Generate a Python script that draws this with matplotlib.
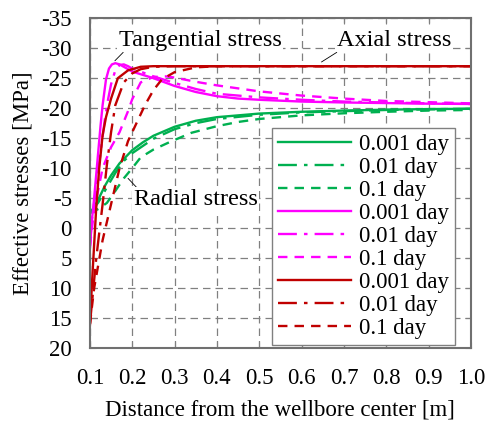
import numpy as np
import matplotlib
matplotlib.use("Agg")
import matplotlib.pyplot as plt

plt.rcParams['font.family'] = ['Liberation Serif', 'DejaVu Serif']
plt.rcParams['axes.unicode_minus'] = False

# radial stress (green)
rad_x1 = [0.1, 0.11, 0.12, 0.135, 0.15, 0.17, 0.2, 0.225, 0.25, 0.3, 0.35, 0.4, 0.5, 0.6, 0.7, 0.8, 0.9, 1.0]
rad_y1 = [-2.5, -3.5, -4.8, -7.0, -8.8, -10.8, -13.0, -14.3, -15.4, -16.9, -17.9, -18.5, -19.1, -19.4, -19.6, -19.75, -19.85, -19.9]
rad_x2 = [0.1, 0.12, 0.14, 0.16, 0.18, 0.2, 0.25, 0.3, 0.35, 0.4, 0.5, 0.6, 0.7, 0.8, 0.9, 1.0]
rad_y2 = [-2.5, -4.3, -6.8, -9.2, -11.2, -12.5, -14.9, -16.5, -17.5, -18.2, -18.9, -19.3, -19.5, -19.7, -19.8, -19.9]
rad_x3 = [0.1, 0.12, 0.14, 0.16, 0.18, 0.2, 0.22, 0.25, 0.29, 0.34, 0.4, 0.45, 0.5, 0.6, 0.7, 0.8, 0.9, 1.0]
rad_y3 = [-2.5, -3.2, -4.2, -6.2, -8.3, -10.0, -11.8, -13.1, -14.4, -15.9, -17.0, -17.7, -18.2, -18.8, -19.15, -19.4, -19.6, -19.7]

# tangential stress (magenta)
tan_x1 = [0.1, 0.104, 0.108, 0.115, 0.12, 0.125, 0.13, 0.138, 0.145, 0.152, 0.16, 0.17, 0.18, 0.2, 0.25, 0.3, 0.35, 0.4, 0.45, 0.5, 0.6, 0.7, 0.8, 0.9, 1.0]
tan_y1 = [3.3, -1.0, -3.5, -9.0, -13.0, -17.0, -20.5, -24.8, -26.6, -27.3, -27.5, -27.3, -26.9, -26.1, -25.0, -23.7, -22.7, -22.0, -21.6, -21.4, -21.1, -20.95, -20.85, -20.75, -20.7]
tan_x2 = [0.1, 0.105, 0.115, 0.125, 0.135, 0.143, 0.15, 0.16, 0.17, 0.18, 0.19, 0.2, 0.25, 0.3, 0.35, 0.4, 0.5, 0.6, 0.7, 0.8, 0.9, 1.0]
tan_y2 = [3.0, -1.5, -7.0, -12.5, -18.0, -21.5, -24.0, -26.3, -27.2, -27.3, -27.0, -26.6, -25.3, -24.2, -23.2, -22.4, -21.8, -21.4, -21.1, -20.95, -20.8, -20.7]
tan_x3 = [0.1, 0.11, 0.13, 0.15, 0.17, 0.19, 0.2, 0.22, 0.25, 0.28, 0.3, 0.35, 0.4, 0.5, 0.6, 0.7, 0.8, 0.9, 1.0]
tan_y3 = [3.0, -3.0, -10.0, -13.5, -16.0, -19.5, -21.5, -24.3, -25.2, -25.3, -25.1, -24.4, -23.8, -22.8, -22.1, -21.6, -21.2, -21.0, -20.8]

# axial stress (red)
axi_x1 = [0.1, 0.105, 0.115, 0.122, 0.13, 0.138, 0.15, 0.166, 0.19, 0.22, 0.25, 0.3, 0.4, 0.6, 0.8, 1.0]
axi_y1 = [16.2, 9.0, -3.5, -10.0, -15.5, -18.5, -21.6, -25.0, -26.3, -26.9, -27.0, -27.0, -27.0, -27.0, -27.0, -27.0]
axi_x2 = [0.1, 0.115, 0.13, 0.14, 0.15, 0.16, 0.18, 0.2, 0.22, 0.25, 0.3, 0.4, 0.6, 0.8, 1.0]
axi_y2 = [16.0, 5.0, -4.0, -10.5, -16.0, -20.5, -24.3, -25.8, -26.5, -26.9, -27.0, -27.0, -27.0, -27.0, -27.0]
axi_x3 = [0.1, 0.11, 0.13, 0.15, 0.17, 0.19, 0.21, 0.23, 0.25, 0.27, 0.3, 0.35, 0.4, 0.6, 0.8, 1.0]
axi_y3 = [16.0, 10.0, 2.0, -4.0, -10.0, -14.5, -17.5, -20.5, -23.0, -24.8, -26.0, -26.8, -27.0, -27.0, -27.0, -27.0]

labels = ['0.001 day', '0.01 day', '0.1 day']
green, magenta, red = '#00B050', '#FF00FF', '#C00000'
styles = ['-', (0, (8, 3, 1.5, 3)), (0, (4, 3))]

fig = plt.figure(figsize=(4.86, 4.23), dpi=100)
ax = fig.add_axes([0.185, 0.177, 0.784, 0.78])

series = [
    (green, [(rad_x1, rad_y1), (rad_x2, rad_y2), (rad_x3, rad_y3)]),
    (magenta, [(tan_x1, tan_y1), (tan_x2, tan_y2), (tan_x3, tan_y3)]),
    (red, [(axi_x1, axi_y1), (axi_x2, axi_y2), (axi_x3, axi_y3)]),
]
for col, curves in series:
    for (xs, ys), ls, lab in zip(curves, styles, labels):
        ax.plot(xs, ys, color=col, ls=ls, lw=1.7, label=lab)

ax.set_xlim(0.1, 1.0)
ax.set_ylim(20, -35)
ax.set_xticks(np.arange(0.1, 1.01, 0.1))
ax.set_xticklabels(['%.1f' % v for v in np.arange(0.1, 1.01, 0.1)])
ax.set_yticks(np.arange(-35, 21, 5))
ax.grid(True, color='#808080', ls=(0, (6, 4)), lw=0.9)
ax.tick_params(direction='in', top=True, right=True, length=4, color='#808080',
               labelsize=16.5)
ax.tick_params(axis='x', pad=14)
ax.tick_params(axis='y', pad=13)
for s in ax.spines.values():
    s.set_color('#707070')
    s.set_linewidth(1.5)

ax.set_xlabel('Distance from the wellbore center [m]', fontsize=16.5, labelpad=8)
ax.set_ylabel('Effective stresses [MPa]', fontsize=16.5, labelpad=6)

bb = dict(facecolor='white', edgecolor='none', pad=1)
ax.annotate('Tangential stress', xy=(0.159, -27.9), xytext=(0.36, -31.3),
            fontsize=17.5, ha='center', va='center', bbox=bb,
            arrowprops=dict(arrowstyle='-', color='black', lw=0.6, shrinkB=0, shrinkA=0,
                            relpos=(0.05, 0.1)))
ax.annotate('Axial stress', xy=(0.647, -27.7), xytext=(0.818, -31.3),
            fontsize=17.5, ha='center', va='center', bbox=bb,
            arrowprops=dict(arrowstyle='-', color='black', lw=0.6, shrinkB=0, shrinkA=0,
                            relpos=(0.05, 0.1)))
ax.annotate('Radial stress', xy=(0.19, -8.3), xytext=(0.35, -4.8),
            fontsize=17.5, ha='center', va='center', bbox=bb,
            arrowprops=dict(arrowstyle='-', color='black', lw=0.6, shrinkB=0, shrinkA=0,
                            relpos=(0.05, 0.9)))

leg = ax.legend(loc='lower right', bbox_to_anchor=(0.958, 0.009), fontsize=16.5,
                frameon=True, fancybox=False, edgecolor='#808080', framealpha=1,
                handlelength=3.2, handletextpad=0.35, labelspacing=0.09,
                borderpad=0.25, borderaxespad=0)
leg.get_frame().set_linewidth(1.0)

fig.savefig('out.png', dpi=100)
